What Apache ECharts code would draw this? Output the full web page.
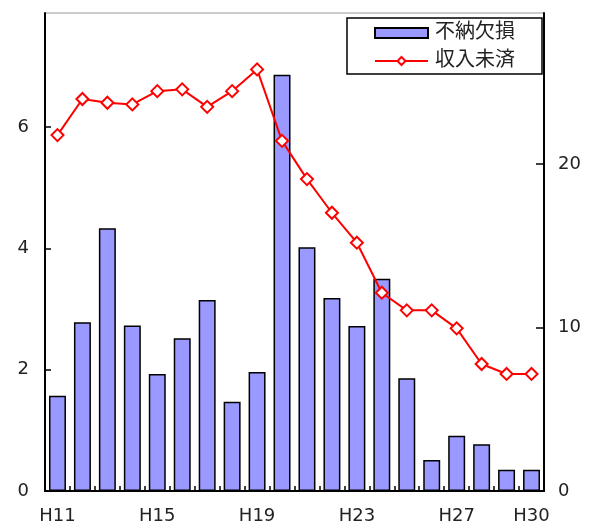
<!DOCTYPE html>
<html><head><meta charset="utf-8">
<script src="https://cdn.jsdelivr.net/npm/echarts@6/dist/echarts.min.js"></script>
<style>html,body{margin:0;padding:0;background:#fff}#c{width:590px;height:530px}</style>
</head><body><div id="c"></div>
<script>
const categories = ['H11','H12','H13','H14','H15','H16','H17','H18','H19','H20','H21','H22','H23','H24','H25','H26','H27','H28','H29','H30'];
const fuNouKesson = [1.57,2.78,4.33,2.73,1.93,2.52,3.15,1.47,1.96,6.86,4.02,3.18,2.72,3.50,1.86,0.51,0.91,0.77,0.35,0.35];
const shuunyuMisai = [21.77,23.98,23.75,23.65,24.46,24.57,23.5,24.46,25.79,21.42,19.08,17.02,15.19,12.13,11.05,11.05,9.95,7.77,7.16,7.16];
const seriesNames = ['不納欠損','収入未済'];
const leftTicks = [0,2,4,6];
const rightTicks = [0,10,20];

const font = '"DejaVu Sans","Noto Sans CJK JP",sans-serif';
const chart = echarts.init(document.getElementById('c'));
chart.setOption({
  animation:false,
  backgroundColor:'#fff',
  grid:{left:45,right:46,top:13,bottom:39,show:true,borderColor:'#999',borderWidth:1},
  legend:{
    left:347, top:18, orient:'vertical', itemGap:8,
    padding:[5,27,3,27],
    borderColor:'#000', borderWidth:1.5, backgroundColor:'#fff',
    itemWidth:53, itemHeight:10,
    textStyle:{fontSize:20,color:'#222',fontFamily:font,padding:[0,0,0,2]},
    data:[{name:seriesNames[0],icon:'rect'},{name:seriesNames[1]}]
  },
  xAxis:{
    type:'category', data:categories, boundaryGap:true,
    axisLine:{lineStyle:{color:'#000',width:2}},
    axisTick:{show:true,inside:true,length:5,interval:0,lineStyle:{color:'#000',width:1.5}},
    axisLabel:{interval:(i)=> i%4===0 || i===categories.length-1, fontSize:18,color:'#222',margin:16,fontFamily:font}
  },
  yAxis:[
    {type:'value',min:0,max:7.88,interval:2,
     splitLine:{show:false},
     axisLine:{show:true,lineStyle:{color:'#000',width:2}},
     axisTick:{show:true,inside:true,length:6,customValues:leftTicks,lineStyle:{color:'#000',width:1.5}},
     axisLabel:{fontSize:18,color:'#222',margin:16,fontFamily:font,customValues:leftTicks,
       formatter:(v)=> leftTicks.includes(v)? String(v):''}},
    {type:'value',min:0,max:29.24,interval:10,position:'right',
     splitLine:{show:false},
     axisLine:{show:true,lineStyle:{color:'#000',width:2}},
     axisTick:{show:true,inside:true,length:8,customValues:rightTicks,lineStyle:{color:'#000',width:1.5}},
     axisLabel:{fontSize:18,color:'#222',margin:14,fontFamily:font,customValues:rightTicks,
       formatter:(v)=> rightTicks.includes(v)? String(v):''}}
  ],
  series:[
    {name:seriesNames[0],type:'bar',data:fuNouKesson,yAxisIndex:0,barWidth:'68%',
     itemStyle:{color:'#9999FF',borderColor:'#000',borderWidth:1.5}},
    {name:seriesNames[1],type:'line',data:shuunyuMisai,yAxisIndex:1,
     symbol:'diamond',symbolSize:12,showAllSymbol:true,
     lineStyle:{color:'#FF0000',width:2},
     itemStyle:{color:'#fff',borderColor:'#FF0000',borderWidth:2}}
  ]
});
</script></body></html>
